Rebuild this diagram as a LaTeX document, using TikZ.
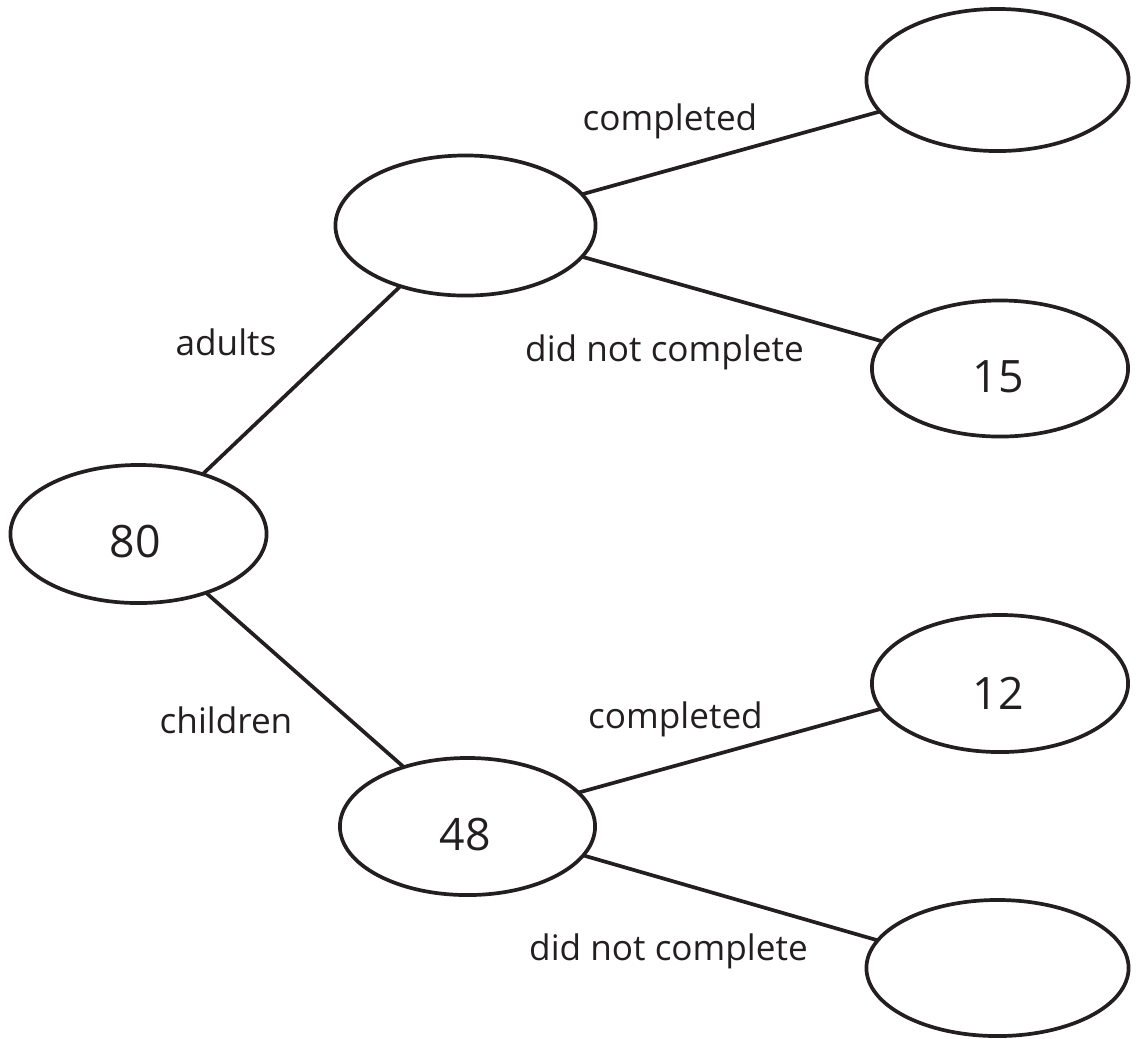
\documentclass[tikz,border=0pt]{standalone}
\usepackage{fontspec}
\setmainfont{Open Sans}
\usetikzlibrary{shapes.geometric}
\definecolor{ink}{HTML}{231F20}
\begin{document}
\begin{tikzpicture}[x=0.01cm,y=-0.01cm,
  ell/.style 2 args={ellipse,draw=ink,line width=0.037cm,inner sep=0pt,outer sep=0pt,minimum width=#1cm,minimum height=#2cm},
  num/.style={inner sep=0pt,text=ink,font=\fontsize{12.7}{15}\selectfont},
  lab/.style={inner sep=0pt,anchor=base,text=ink,font=\fontsize{10}{12}\selectfont},
  conn/.style={draw=ink,line width=0.037cm}]
\useasboundingbox (0,0) rectangle (1136,1038);
% ellipses
\node[ell={2.56}{1.38}] (root) at (138.5,534) {};
\node[ell={2.60}{1.40}] (adults) at (465.5,225.5) {};
\node[ell={2.62}{1.42}] (tr) at (997.5,80) {};
\node[ell={2.56}{1.36}] (n15) at (1000,368.5) {};
\node[ell={2.56}{1.37}] (n12) at (1000,683.5) {};
\node[ell={2.55}{1.37}] (n48) at (467.5,826.5) {};
\node[ell={2.62}{1.36}] (br) at (997.5,968) {};
% numbers
\node[num] (t80) at (135,542) {80};
\node[num] (t15) at (998,377) {15};
\node[num] (t12) at (998,693) {12};
\node[num] (t48) at (465,835) {48};
% connectors
\draw[conn] (root.43.4) -- (adults.223.2);
\draw[conn] (root.-41.7) -- (n48.137.7);
\draw[conn] (adults.15.9) -- (tr.195.6);
\draw[conn] (adults.-15) -- (n15.167.8);
\draw[conn] (n48.17) -- (n12.192.7);
\draw[conn] (n48.-14.7) -- (br.167.4);
% labels
\node[lab] (ladults) at (226,355) {adults};
\node[lab] (lchildren) at (226,733) {children};
\node[lab] (lc1) at (670,130) {completed};
\node[lab] (ld1) at (664.5,361) {did not complete};
\node[lab] (lc2) at (675.5,728) {completed};
\node[lab] (ld2) at (668.5,960) {did not complete};
\end{tikzpicture}
\end{document}
